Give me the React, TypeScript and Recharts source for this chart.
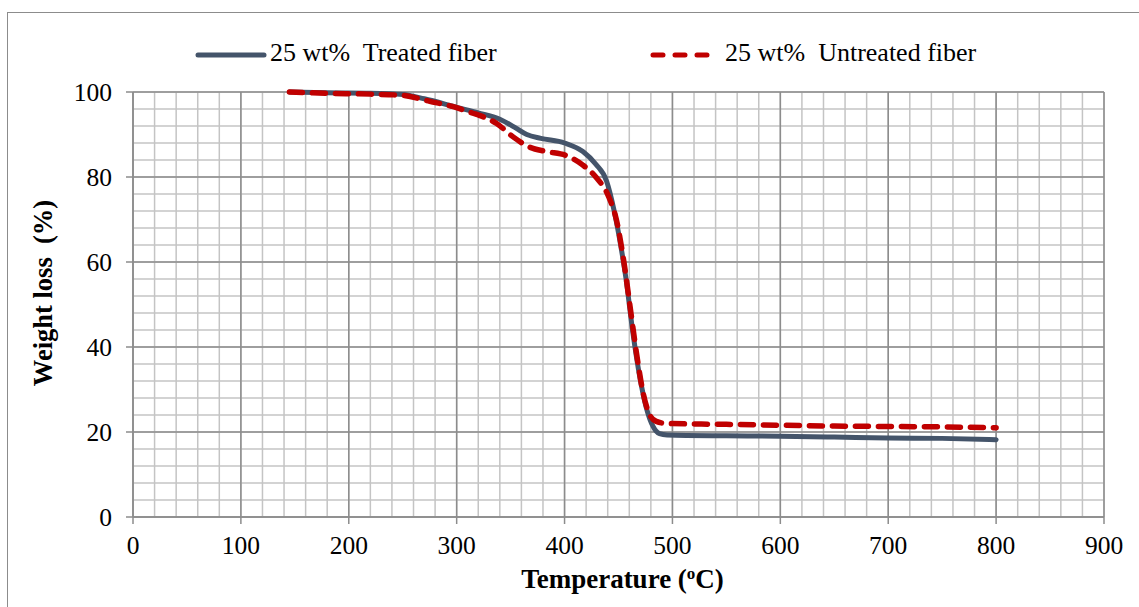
import { LineChart, Line, XAxis, YAxis, CartesianGrid } from 'recharts'

const treatedTemp = [145, 180, 220, 250, 270, 300, 320, 340, 355, 365, 378, 400, 417, 429, 439, 446, 452, 457, 463, 469, 476, 482, 488, 495, 550, 600, 650, 700, 750, 800]
const treatedWeight = [100, 99.8, 99.7, 99.4, 98.4, 96.4, 95.1, 93.6, 91.5, 90.0, 89.1, 88.0, 86.0, 83.0, 79.0, 72.0, 64.0, 56.0, 44.0, 34.0, 25.5, 21.3, 19.6, 19.3, 19.1, 19.0, 18.8, 18.6, 18.5, 18.2]

const untreatedTemp = [145, 180, 220, 250, 275, 296, 315, 321, 337, 352, 367, 383, 402, 417, 429, 441, 448, 455, 461, 467, 473, 479, 485, 495, 550, 600, 650, 700, 750, 800]
const untreatedWeight = [100, 99.7, 99.5, 99.2, 97.8, 96.6, 95.0, 94.5, 92.6, 89.5, 87.1, 86.0, 85.0, 82.8, 80.0, 75.3, 70.0, 60.0, 49.0, 38.0, 29.0, 24.0, 22.5, 22.0, 21.8, 21.6, 21.4, 21.3, 21.2, 21.0]

const xTicks = [0, 100, 200, 300, 400, 500, 600, 700, 800, 900]
const yTicks = [0, 20, 40, 60, 80, 100]
// minor grid every 20 °C and every 4 %
const xMinor = Array.from({ length: 46 }, (_, i) => i * 20)
const yMinor = Array.from({ length: 26 }, (_, i) => i * 4)

const treated = treatedTemp.map((t, i) => ({ t, w: treatedWeight[i] }))
const untreated = untreatedTemp.map((t, i) => ({ t, w: untreatedWeight[i] }))

const FONT = '"Liberation Serif", "Times New Roman", serif'
const TREATED = '#44546a'
const UNTREATED = '#c00000'
const AXIS = '#8c8c8c'

const vLines = (vals: number[]) => ({ offset }: any) =>
  vals.map(v => offset.left + (offset.width * v) / 900)
const hLines = (vals: number[]) => ({ offset }: any) =>
  vals.map(v => offset.top + offset.height * (1 - v / 100))

function LegendBox() {
  return (
    <div style={{ position: 'absolute', left: 0, top: 38, width: 1139, height: 34, fontFamily: FONT, fontSize: 26, color: '#000' }}>
      <svg width={80} height={12} style={{ position: 'absolute', left: 190, top: 11 }}>
        <line x1={8} y1={6} x2={74} y2={6} stroke={TREATED} strokeWidth={5} strokeLinecap="round" />
      </svg>
      <span style={{ position: 'absolute', left: 270, top: 0, whiteSpace: 'pre' }}>25 wt%  Treated fiber</span>
      <svg width={80} height={12} style={{ position: 'absolute', left: 643, top: 11 }}>
        <line x1={10} y1={6} x2={76} y2={6} stroke={UNTREATED} strokeWidth={5} strokeLinecap="round" strokeDasharray="10 12" />
      </svg>
      <span style={{ position: 'absolute', left: 725, top: 0, whiteSpace: 'pre' }}>25 wt%  Untreated fiber</span>
    </div>
  )
}

function XTitle(props: any) {
  const { viewBox } = props
  const cx = viewBox.x + viewBox.width / 2 + 4
  return (
    <text x={cx} y={viewBox.y + 71} textAnchor="middle" fontFamily={FONT} fontSize={27} fontWeight="bold" fill="#000">
      <tspan>Temperature (</tspan>
      <tspan dy={-9} fontSize={17}>o</tspan>
      <tspan dy={9}>C)</tspan>
    </text>
  )
}

function YTitle() {
  return (
    <text x={43} y={293} transform="rotate(-90 43 293)" textAnchor="middle" dominantBaseline="central" fontFamily={FONT} fontSize={26.5} fontWeight="bold" fill="#000">
      {'Weight loss\u00a0\u00a0(%)'}
    </text>
  )
}

export default function App() {
  return (
    <div style={{ position: 'absolute', left: 0, top: 0, width: 1139, height: 607, background: '#fff', overflow: 'hidden' }}>
      <div style={{ position: 'absolute', left: 7, top: 12, width: 1140, height: 610, border: '1.5px solid #8c8c8c' }} />
      <LegendBox />
      <LineChart width={1139} height={607} margin={{ top: 92, right: 35, bottom: 60, left: 0 }}>
        <CartesianGrid stroke="#c4c4c4" strokeWidth={1.5} horizontalCoordinatesGenerator={hLines(yMinor)} verticalCoordinatesGenerator={vLines(xMinor)} />
        <CartesianGrid stroke={AXIS} strokeWidth={1.5} horizontalCoordinatesGenerator={hLines(yTicks)} verticalCoordinatesGenerator={vLines(xTicks)} />
        <XAxis
          type="number"
          dataKey="t"
          domain={[0, 900]}
          ticks={xTicks}
          height={30}
          axisLine={{ stroke: AXIS, strokeWidth: 1.5 }}
          tickLine={{ stroke: AXIS, strokeWidth: 1.5 }}
          tickSize={7}
          tick={{ fontFamily: FONT, fontSize: 25.5, fill: '#000', dy: 10 }}
          label={<XTitle />}
        />
        <YAxis
          type="number"
          dataKey="w"
          domain={[0, 100]}
          ticks={yTicks}
          width={133}
          axisLine={{ stroke: AXIS, strokeWidth: 1.5 }}
          tickLine={{ stroke: AXIS, strokeWidth: 1.5 }}
          tickSize={7}
          tick={{ fontFamily: FONT, fontSize: 25.5, fill: '#000', dx: -12 }}
          label={<YTitle />}
        />
        <Line data={treated} dataKey="w" type="monotone" stroke={TREATED} strokeWidth={5} dot={false} isAnimationActive={false} strokeLinecap="round" />
        <Line data={untreated} dataKey="w" type="monotone" stroke={UNTREATED} strokeWidth={5.5} strokeDasharray="13 10" strokeLinecap="round" dot={false} isAnimationActive={false} />
      </LineChart>
    </div>
  )
}
